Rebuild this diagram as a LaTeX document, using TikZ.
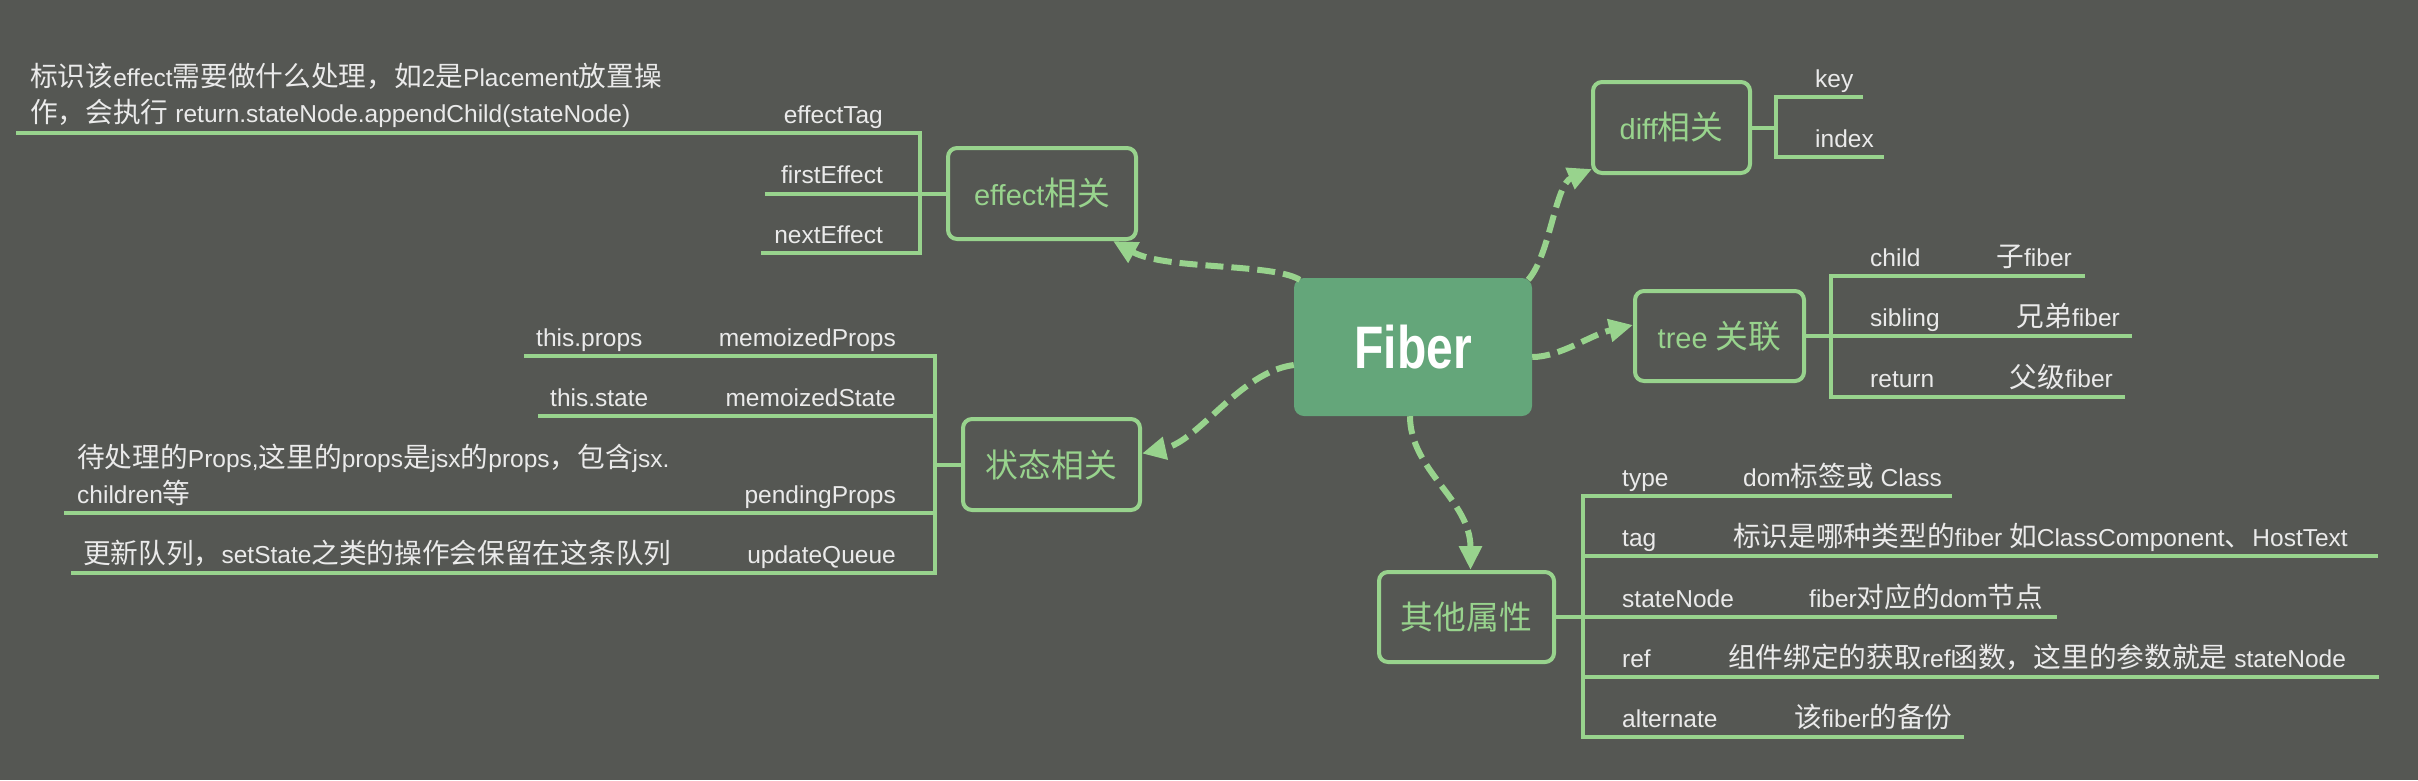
\documentclass[tikz,border=0pt]{standalone}
\usepackage{fontspec}
\setmainfont{Liberation Sans}
\newfontfamily\cjk[Scale=1.13]{Noto Sans CJK SC}
\newfontfamily\fiberfont[FakeStretch=0.8]{Liberation Sans}
\newcommand\zh[1]{{\cjk #1}}
\usetikzlibrary{arrows.meta,calc}
\definecolor{bg}{RGB}{85,87,83}
\definecolor{lg}{RGB}{152,211,141}
\definecolor{fib}{RGB}{100,166,122}
\definecolor{txt}{RGB}{234,234,234}
\begin{document}
\begin{tikzpicture}[x=1pt,y=-1pt,
 br/.style={draw=lg, line width=4pt},
 sub/.style={text=txt, inner sep=0pt, font=\fontsize{24.5}{36}\selectfont},
 topic/.style={draw=lg, line width=4pt, rounded corners=9pt, text=lg, inner sep=0pt, font=\fontsize{29}{36}\selectfont},
 conn/.style={draw=lg, line width=6pt, dash pattern=on 18pt off 8pt, -{Triangle[length=24pt,width=22pt]}},
]
\fill[bg] (0,0) rectangle (2418,780);
\useasboundingbox (0,0) rectangle (2418,780);

% central topic
\node[fill=fib, rounded corners=10pt, minimum width=238pt, minimum height=138pt, inner sep=0pt,
      text=white, font=\fiberfont\bfseries\fontsize{60}{60}\selectfont] (fiber) at (1413,347) {Fiber};

% main topics
\node[topic, minimum width=188pt, minimum height=91pt] (effect) at (1042,193.5) {effect\zh{相关}};
\node[topic, minimum width=177pt, minimum height=91pt] (status) at (1051.5,464.5) {\zh{状态相关}};
\node[topic, minimum width=157pt, minimum height=91pt] (diff) at (1671.5,127.5) {diff\zh{相关}};
\node[topic, minimum width=169pt, minimum height=90pt] (tree) at (1719.5,336) {tree \zh{关联}};
\node[topic, minimum width=175pt, minimum height=90pt] (other) at (1466.5,617) {\zh{其他属性}};

% connectors
\draw[conn] ($(fiber.north west)+(6,2)$) .. controls +(-28,-17) and +(52,29) .. ($(effect.south east)+(-25,0)$);
\draw[conn] ($(fiber.west)+(0,18)$) .. controls +(-54,7) and +(58,-13) .. ($(status.east)+(0,-11)$);
\draw[conn] ($(fiber.north east)+(-4,2)$) .. controls +(22,-25) and +(-37,16) .. ($(diff.south west)+(1,-6)$);
\draw[conn] ($(fiber.east)+(0,10)$) .. controls +(28,0) and +(-43,10) .. ($(tree.west)+(0,-11)$);
\draw[conn] ($(fiber.south)+(-3,0)$) .. controls +(0,54) and +(0,-70) .. ($(other.north)+(4,0)$);

% effect branch
\coordinate (eJ) at (920,193.5);
\draw[br] (effect.west) -- (eJ);
\draw[br] (eJ) |- (16,133);
\draw[br] (eJ) -- (765,193.5);
\draw[br] (eJ) |- (761,253);
\node[sub, anchor=base east] (eTag) at (883,123) {effectTag};
\node[sub, anchor=base west, align=left] (eTagD) at (30,122) {\zh{标识该}effect\zh{需要做什么处理，如}2\zh{是}Placement\zh{放置操}\\\zh{作，会执行} return.stateNode.appendChild(stateNode)};
\node[sub, anchor=base east] (eFirst) at (883,183) {firstEffect};
\node[sub, anchor=base east] (eNext) at (883,243) {nextEffect};

% status branch
\coordinate (sJ) at (935,464.5);
\draw[br] (status.west) -- (sJ);
\draw[br] (sJ) |- (524,356);
\draw[br] (sJ) |- (538,416);
\draw[br] (sJ) |- (64,513);
\draw[br] (sJ) |- (71,573);
\node[sub, anchor=base west] (sPropsD) at (536,346) {this.props};
\node[sub, anchor=base east] (sProps) at (896,346) {memoizedProps};
\node[sub, anchor=base west] (sStateD) at (550,406) {this.state};
\node[sub, anchor=base east] (sState) at (896,406) {memoizedState};
\node[sub, anchor=base west, align=left] (sPendD) at (77,503) {\zh{待处理的}Props,\zh{这里的}props\zh{是}jsx\zh{的}props\zh{，包含}jsx.\\children\zh{等}};
\node[sub, anchor=base east] (sPend) at (896,503) {pendingProps};
\node[sub, anchor=base west] (sUpdD) at (83,563) {\zh{更新队列，}setState\zh{之类的操作会保留在这条队列}};
\node[sub, anchor=base east] (sUpd) at (896,563) {updateQueue};

% diff branch
\coordinate (dJ) at (1776,127.5);
\draw[br] (diff.east) -- (dJ);
\draw[br] (dJ) |- (1863,97);
\draw[br] (dJ) |- (1884,157);
\node[sub, anchor=base west] (dKey) at (1815,87) {key};
\node[sub, anchor=base west] (dIndex) at (1815,147) {index};

% tree branch
\coordinate (tJ) at (1831,336);
\draw[br] (tree.east) -- (tJ);
\draw[br] (tJ) |- (2085,276);
\draw[br] (tJ) -- (2132,336);
\draw[br] (tJ) |- (2125,397);
\node[sub, anchor=base west] (tChild) at (1870,266) {child};
\node[sub, anchor=base east] (tChildD) at (2072,266) {\zh{子}fiber};
\node[sub, anchor=base west] (tSib) at (1870,326) {sibling};
\node[sub, anchor=base east] (tSibD) at (2120,326) {\zh{兄弟}fiber};
\node[sub, anchor=base west] (tRet) at (1870,387) {return};
\node[sub, anchor=base east] (tRetD) at (2113,387) {\zh{父级}fiber};

% other branch
\coordinate (oJ) at (1583,617);
\draw[br] (other.east) -- (oJ);
\draw[br] (oJ) |- (1952,496);
\draw[br] (oJ) |- (2378,556);
\draw[br] (oJ) -- (2057,617);
\draw[br] (oJ) |- (2379,677);
\draw[br] (oJ) |- (1964,737);
\node[sub, anchor=base west] (oType) at (1622,486) {type};
\node[sub, anchor=base west] (oTypeD) at (1743,486) {dom\zh{标签或} Class};
\node[sub, anchor=base west] (oTag) at (1622,546) {tag};
\node[sub, anchor=base west] (oTagD) at (1733,546) {\zh{标识是哪种类型的}fiber \zh{如}ClassComponent\zh{、}HostText};
\node[sub, anchor=base west] (oSN) at (1622,607) {stateNode};
\node[sub, anchor=base west] (oSND) at (1809,607) {fiber\zh{对应的}dom\zh{节点}};
\node[sub, anchor=base west] (oRef) at (1622,667) {ref};
\node[sub, anchor=base west] (oRefD) at (1728,667) {\zh{组件绑定的获取}ref\zh{函数，这里的参数就是} stateNode};
\node[sub, anchor=base west] (oAlt) at (1622,727) {alternate};
\node[sub, anchor=base west] (oAltD) at (1794,727) {\zh{该}fiber\zh{的备份}};
\end{tikzpicture}
\end{document}
